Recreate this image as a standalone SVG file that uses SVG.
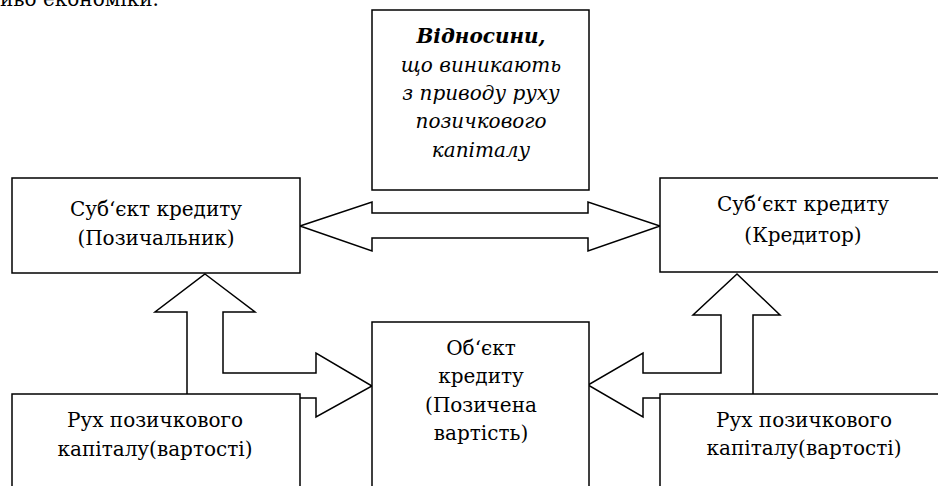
<svg xmlns="http://www.w3.org/2000/svg" width="938" height="486" viewBox="0 0 938 486">
<style>
.b{fill:#fff;stroke:#000;stroke-width:1.5}
.a{fill:#fff;stroke:#000;stroke-width:1.5;stroke-linejoin:miter}
.t{font-family:'DejaVu Serif',serif;font-size:20px;fill:#000;text-anchor:middle}
.i{font-style:italic}
.bi{font-style:italic;font-weight:bold}
</style>
<rect width="938" height="486" fill="#fff"/>
<text class="t" x="0" y="6" style="text-anchor:start">иво економіки.</text>
<g id="connectors">
<polygon class="a" points="300,226 372,202 372,213 588,213 588,202 660,226 588,251 588,238 372,238 372,251"/>
<polygon class="a" points="205,274 255,312 223,312 223,373 316,373 316,353 372,386 316,417 316,398 187,398 187,312 155,312"/>
<polygon class="a" points="737,274 780,315 753,315 753,398 643,398 643,417 588,385 643,353 643,373 721,373 721,315 693,315"/>
</g>
<g id="relations">
<rect class="b" x="372" y="10" width="217" height="180"/>
<text class="t bi" x="481" y="43">Відносини,</text>
<text class="t i" x="481" y="72">що виникають</text>
<text class="t i" x="481" y="100">з приводу руху</text>
<text class="t i" x="481" y="128">позичкового</text>
<text class="t i" x="481" y="157">капіталу</text>
</g>
<g id="borrower">
<rect class="b" x="12" y="178" width="288" height="95"/>
<text class="t" x="156" y="216">Суб‘єкт кредиту</text>
<text class="t" x="156" y="245">(Позичальник)</text>
</g>
<g id="creditor">
<rect class="b" x="660" y="178" width="290" height="94"/>
<text class="t" x="803" y="211">Суб‘єкт кредиту</text>
<text class="t" x="803" y="242">(Кредитор)</text>
</g>
<g id="object">
<rect class="b" x="372" y="322" width="217" height="180"/>
<text class="t" x="481" y="355">Об‘єкт</text>
<text class="t" x="481" y="383">кредиту</text>
<text class="t" x="481" y="412">(Позичена</text>
<text class="t" x="481" y="440">вартість)</text>
</g>
<g id="flow-left">
<rect class="b" x="12" y="394" width="288" height="110"/>
<text class="t" x="155" y="427">Рух позичкового</text>
<text class="t" x="155" y="456">капіталу(вартості)</text>
</g>
<g id="flow-right">
<rect class="b" x="660" y="394" width="290" height="110"/>
<text class="t" x="804" y="427">Рух позичкового</text>
<text class="t" x="804" y="455">капіталу(вартості)</text>
</g>
</svg>
